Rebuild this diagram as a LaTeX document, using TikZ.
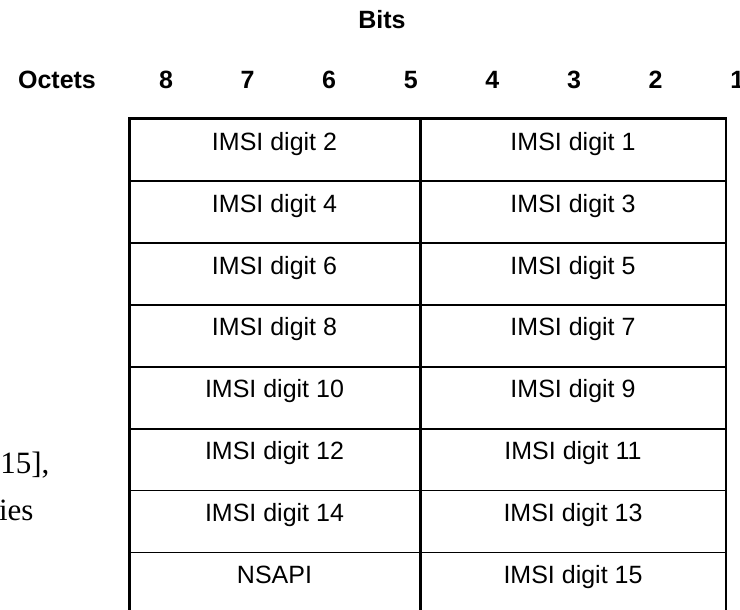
\documentclass[tikz,border=0pt]{standalone}
\usepackage{fontspec}
\setmainfont{Liberation Serif}
\setsansfont{Liberation Sans}
\usepackage{tikz}

\begin{document}
\begin{tikzpicture}[x=1pt,y=-1pt,
    every node/.style={font=\sffamily\fontsize{25}{30}\selectfont},
    head/.style={font=\sffamily\bfseries\fontsize{25}{30}\selectfont},
    cell/.style={draw,line width=1.5pt,inner sep=0pt,text height=31pt,text depth=30.9pt,anchor=north west}]
  \useasboundingbox (0,0) rectangle (740,610);
  \clip (0,0) rectangle (740,610);
  \node[head] (Bits) at (382,20) {Bits};
  \node[head] (Oct) at (57,80) {Octets};
  \foreach \n in {1,...,8}
    \node[head] (bit\n) at ({166+81.6*(8-\n)},80) {\n};
  \foreach \i/\l/\r in {1/IMSI digit 2/IMSI digit 1, 2/IMSI digit 4/IMSI digit 3,
      3/IMSI digit 6/IMSI digit 5, 4/IMSI digit 8/IMSI digit 7,
      5/IMSI digit 10/IMSI digit 9, 6/IMSI digit 12/IMSI digit 11,
      7/IMSI digit 14/IMSI digit 13, 8/NSAPI/IMSI digit 15}
  {
    \node[cell,minimum width=289.5pt] (L\i) at (129,{118.5+61.9*(\i-1)}) {\l};
    \node[cell,minimum width=304.5pt] (R\i) at (L\i.north east) {\r};
  }
  \draw[line width=2.2pt] (L1.north west) rectangle (R8.south east);
  \node[font=\rmfamily\fontsize{31}{36}\selectfont,anchor=base east] (t1) at (53,473) {15],};
  \node[font=\rmfamily\fontsize{31}{36}\selectfont,anchor=base east] (t2) at (37,520) {ies};
\end{tikzpicture}
\end{document}
